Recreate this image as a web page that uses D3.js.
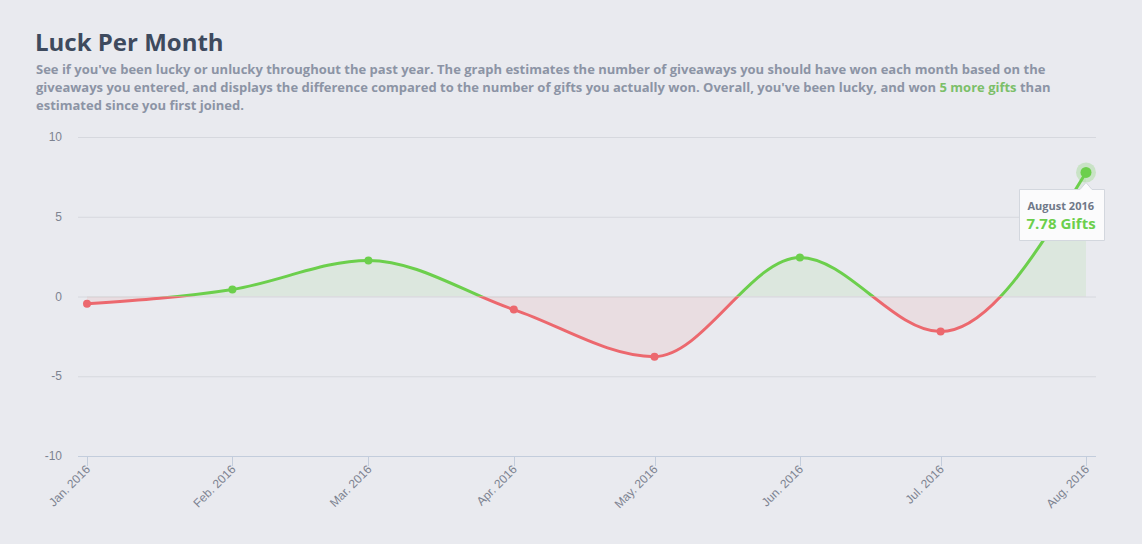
<!DOCTYPE html>
<html>
<head>
<meta charset="utf-8">
<script src="https://cdn.jsdelivr.net/npm/d3@7"></script>
<style>
  html, body { margin: 0; padding: 0; background: #e9eaef; }
  svg { display: block; }
  .title { font-family: "Open Sans", sans-serif; font-weight: 700; font-size: 24px; fill: #3e4a5e; }
  .desc { font-family: "Open Sans", sans-serif; font-weight: 700; font-size: 13px; fill: #8c94a5; }
  .desc .hl { fill: #7cbf69; }
  .axis text { font-family: "Liberation Sans", Arial, sans-serif; font-size: 12px; fill: #7d8391; }
  .tt-date { font-family: "Open Sans", sans-serif; font-weight: 700; font-size: 11px; fill: #6f7888; }
  .tt-val { font-family: "Open Sans", sans-serif; font-weight: 700; font-size: 15px; fill: #6ccf4c; }
</style>
</head>
<body>
<svg id="chart"></svg>
<script>
// ── Data ──
const months = ["2016-01-01", "2016-02-01", "2016-03-01", "2016-04-01",
                "2016-05-01", "2016-06-01", "2016-07-01", "2016-08-01"];
const monthLabels = ["Jan. 2016", "Feb. 2016", "Mar. 2016", "Apr. 2016",
                     "May. 2016", "Jun. 2016", "Jul. 2016", "Aug. 2016"];
const luck = [-0.45, 0.44, 2.26, -0.82, -3.77, 2.45, -2.2, 7.78];
const yTicks = [-10, -5, 0, 5, 10];

const descLines = [
  ["See if you've been lucky or unlucky throughout the past year. The graph estimates the number of giveaways you should have won each month based on the"],
  ["giveaways you entered, and displays the difference compared to the number of gifts you actually won. Overall, you've been lucky, and won ", "5 more gifts", " than"],
  ["estimated since you first joined."]
];

// ── Dimensions ──
const W = 1142, H = 544;
const plot = { left: 78, right: 1096, top: 137, bottom: 456 };
const green = "#6ccf4c", red = "#ec686e";

const svg = d3.select("#chart").attr("width", W).attr("height", H);

// ── Header ──
svg.append("text").attr("class", "title").attr("x", 35).attr("y", 51).text("Luck Per Month");

descLines.forEach((parts, i) => {
  const t = svg.append("text").attr("class", "desc").attr("x", 36).attr("y", 74 + i * 18);
  parts.forEach((p, j) => {
    t.append("tspan").attr("class", j === 1 ? "hl" : null).text(p);
  });
});

// ── Scales ──
const parse = d3.timeParse("%Y-%m-%d");
const dates = months.map(parse);
const x = d3.scaleTime().domain(d3.extent(dates)).range([87, 1086]);
const y = d3.scaleLinear().domain([-10, 10]).range([plot.bottom, plot.top]);
const data = dates.map((d, i) => ({ date: d, v: luck[i] }));

// ── Grid + y axis ──
const yAxis = svg.append("g").attr("class", "axis");
yAxis.selectAll("line").data(yTicks.filter(t => t !== -10)).join("line")
  .attr("x1", plot.left).attr("x2", plot.right)
  .attr("y1", d => y(d) + 0.5).attr("y2", d => y(d) + 0.5)
  .attr("stroke", "#d6d8de");
yAxis.selectAll("text").data(yTicks).join("text")
  .attr("x", 62).attr("y", d => y(d) + 4)
  .attr("text-anchor", "end")
  .text(d => d);

// ── x axis ──
const xAxis = svg.append("g").attr("class", "axis");
xAxis.append("line")
  .attr("x1", plot.left).attr("x2", plot.right)
  .attr("y1", plot.bottom + 0.5).attr("y2", plot.bottom + 0.5)
  .attr("stroke", "#c3cddc");
xAxis.selectAll(".tick").data(dates).join("line")
  .attr("class", "tick")
  .attr("x1", d => Math.round(x(d)) + 0.5).attr("x2", d => Math.round(x(d)) + 0.5)
  .attr("y1", plot.bottom).attr("y2", plot.bottom + 10)
  .attr("stroke", "#c3cddc");
xAxis.selectAll("text").data(dates).join("text")
  .attr("text-anchor", "end")
  .attr("transform", d => `translate(${x(d) + 4},${plot.bottom + 14}) rotate(-45)`)
  .text((d, i) => monthLabels[i]);

// ── Zone clips ──
const defs = svg.append("defs");
defs.append("clipPath").attr("id", "clip-pos").append("rect")
  .attr("x", 0).attr("y", 0).attr("width", W).attr("height", y(0));
defs.append("clipPath").attr("id", "clip-neg").append("rect")
  .attr("x", 0).attr("y", y(0)).attr("width", W).attr("height", H - y(0));

const area = d3.area().curve(d3.curveMonotoneX)
  .x(d => x(d.date)).y0(y(0)).y1(d => y(d.v));
const line = d3.line().curve(d3.curveMonotoneX)
  .x(d => x(d.date)).y(d => y(d.v));

[["clip-pos", green], ["clip-neg", red]].forEach(([clip, col]) => {
  const g = svg.append("g").attr("clip-path", `url(#${clip})`);
  g.append("path").attr("d", area(data)).attr("fill", col).attr("fill-opacity", 0.1);
  g.append("path").attr("d", line(data)).attr("fill", "none")
    .attr("stroke", col).attr("stroke-width", 3).attr("stroke-linecap", "round");
  g.selectAll("circle").data(data.slice(0, -1)).join("circle")
    .attr("cx", d => x(d.date)).attr("cy", d => y(d.v)).attr("r", 4)
    .attr("fill", col);
});

// ── Hovered last point ──
const last = data[data.length - 1];
const lx = x(last.date), ly = y(last.v);
svg.append("circle").attr("cx", lx).attr("cy", ly).attr("r", 10)
  .attr("fill", green).attr("fill-opacity", 0.25);
svg.append("circle").attr("cx", lx).attr("cy", ly).attr("r", 5.5).attr("fill", green);

// ── Tooltip ──
const tt = svg.append("g").attr("transform", "translate(1019.5,189.5)");
const tw = 85, th = 51, ax = lx - 1019.5;
tt.append("path")
  .attr("d", `M0,0 H${ax - 6} L${ax},-7 L${ax + 6},0 H${tw} V${th} H0 Z`)
  .attr("fill", "#fbfbfc").attr("stroke", "#d3d7de").attr("stroke-width", 1);
tt.append("text").attr("class", "tt-date").attr("x", 8).attr("y", 20).text("August 2016");
tt.append("text").attr("class", "tt-val").attr("x", 7).attr("y", 39).text(`${last.v} Gifts`);
</script>
</body>
</html>
